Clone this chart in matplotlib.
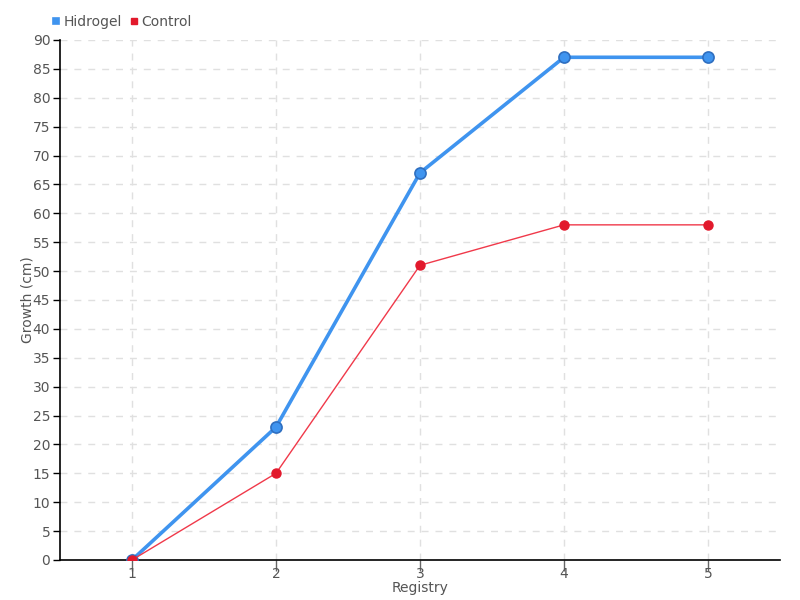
import matplotlib
matplotlib.use('Agg')
import matplotlib.pyplot as plt

registry = [1, 2, 3, 4, 5]
hidrogel = [0, 23, 67, 87, 87]
control = [0, 15, 51, 58, 58]
y_ticks = list(range(0, 95, 5))

plt.rcParams['font.family'] = ['DejaVu Sans']

fig = plt.figure(figsize=(8, 6), dpi=100)
ax = fig.add_axes([0.075, 0.0667, 0.9, 0.8667])

ax.plot(registry, hidrogel, '-o', color='#3f94ef', linewidth=2.6, markersize=8,
        markeredgecolor='#2f6fc0', markeredgewidth=1.2, label='Hidrogel', zorder=3)
ax.plot(registry, control, '-o', color='#f0394a', linewidth=1, markersize=6.5,
        markerfacecolor='#e2192c', markeredgecolor='#e2192c', label='Control', zorder=4)

ax.set_xlim(0.5, 5.5)
ax.set_ylim(0, 90)
ax.set_xticks(registry)
ax.set_yticks(y_ticks)
ax.grid(True, linestyle=(0, (5, 5)), color='#e0e0e0', linewidth=1)
ax.set_axisbelow(True)

for s in ['top', 'right']:
    ax.spines[s].set_visible(False)
for s in ['left', 'bottom']:
    ax.spines[s].set_color('black')
    ax.spines[s].set_linewidth(1.2)

ax.tick_params(axis='y', length=5, width=1, color='black', labelcolor='#555555', labelsize=10, pad=2)
ax.tick_params(axis='x', length=8, width=1, color='#666666', labelcolor='#555555', labelsize=10, pad=-3)

ax.set_xlabel('Registry', color='#555555', fontsize=10, labelpad=0)
ax.set_ylabel('Growth (cm)', color='#555555', fontsize=10, labelpad=-1)

ax.legend(loc='lower left', bbox_to_anchor=(-0.022, 1.005), ncol=2, frameon=False,
          handlelength=0.5, handletextpad=0.3, columnspacing=0.6, fontsize=10,
          labelcolor='#555555', borderaxespad=0.2)
leg = ax.get_legend()
for h, c in zip(leg.legend_handles, ['#3f94ef', '#e2192c']):
    h.set_linestyle('None')
    h.set_marker('s')
    h.set_markersize(5)
    h.set_markerfacecolor(c)
    h.set_markeredgecolor(c)

fig.savefig('out.png', dpi=100)
